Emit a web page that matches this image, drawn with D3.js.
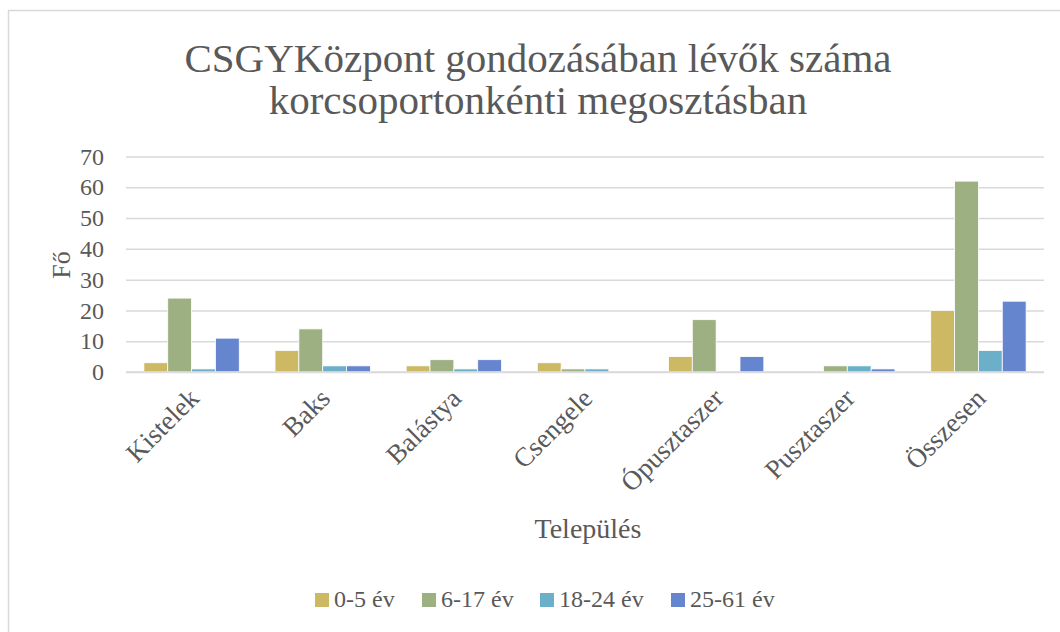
<!DOCTYPE html>
<html>
<head>
<meta charset="utf-8">
<script src="https://cdnjs.cloudflare.com/ajax/libs/d3/7.8.5/d3.min.js"></script>
<style>
  body { margin: 0; background: #fff; }
  text { font-family: "Liberation Serif", "DejaVu Serif", serif; fill: #595959; }
</style>
</head>
<body>
<svg width="1060" height="632"></svg>
<script>
var categories = ["Kistelek", "Baks", "Balástya", "Csengele", "Ópusztaszer", "Pusztaszer", "Összesen"];
var seriesNames = ["0-5 év", "6-17 év", "18-24 év", "25-61 év"];
var age0_5 = [3, 7, 2, 3, 5, 0, 20];
var age6_17 = [24, 14, 4, 1, 17, 2, 62];
var age18_24 = [1, 2, 1, 1, 0, 2, 7];
var age25_61 = [11, 2, 4, 0, 5, 1, 23];
var yTicks = [0, 10, 20, 30, 40, 50, 60, 70];
var colors = ["#cdb864", "#9db082", "#6bb0c8", "#6685cf"];

var series = [age0_5, age6_17, age18_24, age25_61];

var svg = d3.select("svg");

// chart border
svg.append("rect")
  .attr("x", 8.5).attr("y", 10.5)
  .attr("width", 1070).attr("height", 640)
  .attr("fill", "none").attr("stroke", "#d9d9d9").attr("stroke-width", 1.5);

var plotLeft = 126, plotRight = 1044, plotTop = 156.5, plotBottom = 372;

// gap width 150%: each band holds 4 bars + 1.5 bar widths of gap
var x0 = d3.scaleBand().domain(categories).range([plotLeft, plotRight]);
var band = x0.step();
var barW = band / 5.5;
var x1 = d3.scaleBand().domain(seriesNames).range([0, barW * 4]);
var y = d3.scaleLinear().domain([0, 70]).range([plotBottom, plotTop]);

// title
svg.append("text").attr("x", 538).attr("y", 72).attr("text-anchor", "middle")
  .style("font-size", "41px").text("CSGYKözpont gondozásában lévők száma");
svg.append("text").attr("x", 538).attr("y", 114).attr("text-anchor", "middle")
  .style("font-size", "41px").text("korcsoportonkénti megosztásban");

// gridlines + y axis
var yAxis = d3.axisLeft(y).tickValues(yTicks).tickSize(-(plotRight - plotLeft)).tickPadding(22);
var ga = svg.append("g").attr("transform", "translate(" + plotLeft + ",0)").call(yAxis);
ga.select(".domain").remove();
ga.selectAll(".tick line").attr("stroke", "#d9d9d9").attr("stroke-width", 1.5);
ga.selectAll(".tick text").style("font-size", "24px").attr("fill", "#595959");

// bars
var groups = svg.append("g").selectAll("g")
  .data(categories)
  .enter().append("g")
  .attr("transform", function(d) { return "translate(" + (x0(d) + (band - barW * 4) / 2) + ",0)"; });

groups.selectAll("rect")
  .data(function(d, i) { return series.map(function(s, k) { return { name: seriesNames[k], v: s[i], k: k }; }); })
  .enter().append("rect")
  .filter(function(d) { return d.v > 0; })
  .attr("x", function(d) { return x1(d.name); })
  .attr("y", function(d) { return y(d.v); })
  .attr("width", x1.bandwidth())
  .attr("height", function(d) { return y(0) - y(d.v); })
  .attr("fill", function(d) { return colors[d.k]; })
  .attr("stroke", "#fff").attr("stroke-width", 0.8);

// x axis line
svg.append("line").attr("x1", plotLeft).attr("x2", plotRight).attr("y1", plotBottom).attr("y2", plotBottom)
  .attr("stroke", "#d9d9d9").attr("stroke-width", 1.5);

// x labels
svg.append("g").selectAll("text")
  .data(categories)
  .enter().append("text")
  .attr("text-anchor", "end")
  .attr("transform", function(d) {
    var cx = x0(d) + band / 2;
    return "translate(" + (cx + 9) + "," + 400 + ") rotate(-45)";
  })
  .style("font-size", "27px")
  .text(function(d) { return d; });

// axis titles
svg.append("text").attr("transform", "translate(70,265) rotate(-90)").attr("text-anchor", "middle")
  .style("font-size", "26px").text("Fő");
svg.append("text").attr("x", 588).attr("y", 538).attr("text-anchor", "middle")
  .style("font-size", "28px").text("Település");

// legend
var legendX = [315, 422, 540, 671];
var lg = svg.append("g").selectAll("g")
  .data(seriesNames)
  .enter().append("g")
  .attr("transform", function(d, i) { return "translate(" + legendX[i] + ",593)"; });
lg.append("rect").attr("width", 14).attr("height", 14).attr("fill", function(d, i) { return colors[i]; });
lg.append("text").attr("x", 19).attr("y", 14).style("font-size", "24px").text(function(d) { return d; });
</script>
</body>
</html>
